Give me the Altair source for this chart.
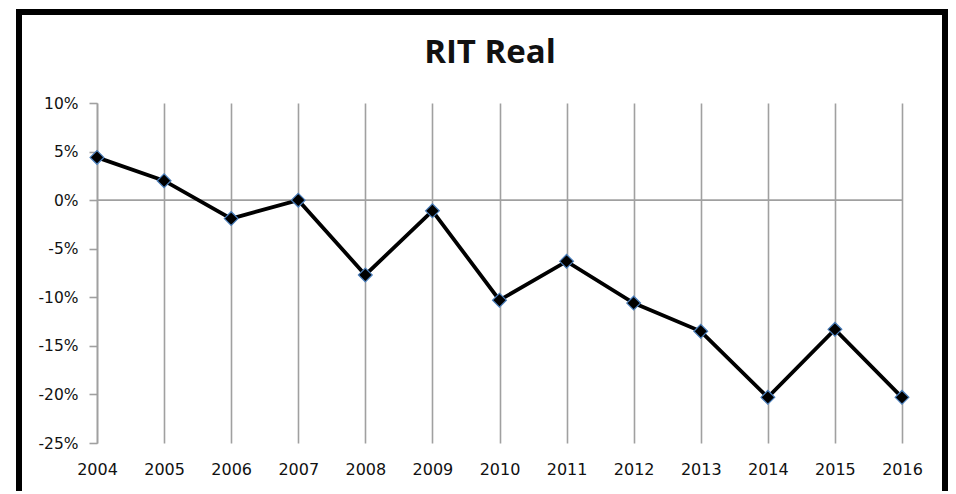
import altair as alt
import pandas as pd

title = "RIT Real"
years = ["2004", "2005", "2006", "2007", "2008", "2009", "2010",
         "2011", "2012", "2013", "2014", "2015", "2016"]
values = [4.4, 2.0, -1.9, 0.0, -7.7, -1.1, -10.3, -6.3, -10.6, -13.5, -20.3, -13.3, -20.3]
y_ticks = [10, 5, 0, -5, -10, -15, -20, -25]

df = pd.DataFrame({"year": years, "value": values})

W, H = 805, 340
GRID = "#a0a0a0"

x_enc = alt.X("year:O", sort=years,
              scale=alt.Scale(type="point", padding=0),
              axis=alt.Axis(title=None, domain=False, ticks=False, grid=True,
                            gridColor=GRID, gridWidth=1.6,
                            labelFont="DejaVu Sans", labelFontSize=16,
                            labelColor="#111111", labelPadding=18, labelAngle=0))
y_enc = alt.Y("value:Q",
              scale=alt.Scale(domain=[-25, 10], nice=False, zero=False),
              axis=alt.Axis(title=None, values=y_ticks, grid=False,
                            domain=True, domainColor=GRID, domainWidth=1.6,
                            ticks=True, tickColor=GRID, tickWidth=1.6, tickSize=8,
                            labelFont="DejaVu Sans", labelFontSize=15.5,
                            labelColor="#111111", labelPadding=11,
                            labelExpr="datum.value + '%'"))

base = alt.Chart(df)

zero = alt.Chart(pd.DataFrame({"v": [0]})).mark_rule(
    color=GRID, strokeWidth=1.6).encode(y=alt.Y("v:Q"))

line = base.mark_line(color="black", strokeWidth=3.8).encode(x=x_enc, y=y_enc)
pts = base.mark_point(shape="diamond", filled=True, size=190, fill="black",
                      stroke="#4a7ebb", strokeWidth=1.2, opacity=1).encode(
    x=alt.X("year:O", sort=years), y="value:Q")

frame = alt.Chart(pd.DataFrame({"a": [1]})).mark_rect(
    fillOpacity=0, stroke="black", strokeWidth=6).encode(
    x=alt.value(-78), x2=alt.value(848), y=alt.value(-91), y2=alt.value(420))

ttl = alt.Chart(pd.DataFrame({"t": [title]})).mark_text(
    font="Open Sans", fontWeight="bold", fontSize=33, color="#111111",
    align="center", baseline="alphabetic").encode(
    text="t:N", x=alt.value(393), y=alt.value(-40))

chart = alt.layer(zero, line, pts, frame, ttl).properties(
    width=W, height=H,
    padding={"left": 89, "top": 95, "right": 46, "bottom": 48},
    autosize=alt.AutoSizeParams(type="none"),
    background="white",
).configure_view(stroke=None)

chart.save("out.html", embed_options={"renderer": "svg", "actions": False})
